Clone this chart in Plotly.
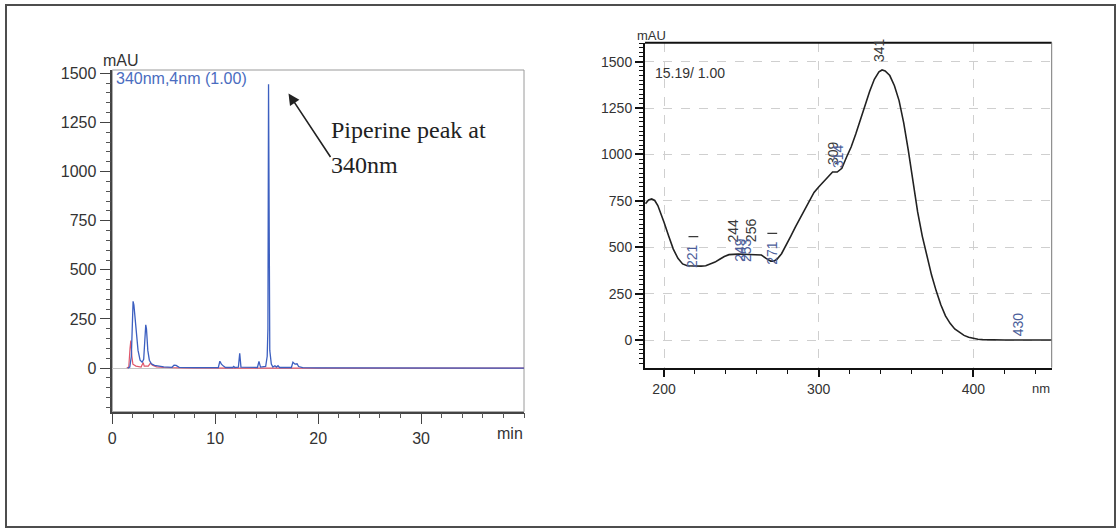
import plotly.graph_objects as go

# ---------------- data ----------------
# Chromatogram, 340nm channel (blue)
chrom_time = [1.5, 1.7, 1.85, 1.95, 2.02, 2.1, 2.2, 2.35, 2.5, 2.7, 2.9, 3.05, 3.15, 3.25, 3.32,
              3.45, 3.6, 3.8, 4.1, 4.5, 5.0, 5.8, 6.0, 6.2, 6.5, 8.0, 10.3, 10.45, 10.6, 10.8,
              11.0, 11.7, 11.8, 11.9, 12.25, 12.38, 12.5, 14.1, 14.25, 14.4, 14.9, 15.05, 15.12,
              15.18, 15.24, 15.3, 15.45, 15.6, 15.8, 15.95, 16.1, 16.25, 17.4, 17.55, 17.75,
              17.95, 18.1, 18.5, 20.0, 25.0, 40.0]
chrom_mau = [0, 5, 60, 300, 340, 320, 270, 170, 90, 40, 30, 45, 120, 220, 200,
             90, 40, 22, 14, 10, 6, 4, 15, 14, 4, 2, 2, 35, 20, 10,
             3, 3, 8, 3, 5, 75, 5, 3, 34, 5, 8, 60, 200,
             1445, 200, 90, 20, 5, 12, 5, 12, 3, 3, 30, 20,
             22, 8, 2, 1, 0, 0]
# second (red) channel
ref_time = [1.4, 1.6, 1.72, 1.8, 1.9, 2.0, 2.3, 2.8, 3.0, 3.1, 3.5, 3.7, 3.9, 4.3, 5.0, 7.0, 12.0, 40.0]
ref_mau = [0, 5, 100, 140, 60, 20, 10, 5, 28, 10, 10, 25, 15, 6, 3, 1, 0, 0]

# UV spectrum at 15.19 min
spec_nm = [188, 190, 192, 194, 196, 198, 200, 203, 206, 209, 212, 215, 218, 221, 224, 227, 230,
           233, 236, 239, 242, 245, 248, 251, 254, 257, 260, 263, 266, 269, 271, 273, 276, 279,
           282, 285, 288, 291, 294, 297, 300, 303, 306, 309, 312, 315, 318, 321, 324, 327, 330,
           333, 336, 339, 341, 343, 346, 349, 352, 355, 358, 361, 364, 367, 370, 373, 376, 379,
           382, 385, 388, 391, 394, 397, 400, 403, 406, 410, 420, 430, 440, 451]
spec_mau = [735, 755, 760, 752, 725, 685, 635, 560, 490, 440, 410, 400, 398, 398, 398, 400, 408,
            420, 435, 450, 460, 463, 463, 462, 462, 462, 462, 458, 440, 425, 425, 435, 465, 510,
            560, 610, 655, 700, 750, 795, 825, 850, 875, 905, 905, 925, 985, 1040, 1110, 1190, 1260,
            1340, 1405, 1445, 1455, 1450, 1425, 1370, 1290, 1170, 1020, 850, 690, 560, 450, 350, 265, 190,
            130, 90, 60, 40, 25, 15, 8, 4, 2, 1, 0, 0, 0, 0]

# wavelength labels on the spectrum
lab_text = ["221", "244", "256", "249", "253", "271", "309", "314", "341", "430"]
lab_nm = [218, 244, 256, 249, 253, 270, 309, 313, 339, 429]
lab_mau = [452, 590, 590, 485, 485, 472, 1005, 990, 1562, 86]
lab_kind = ["min", "max", "max", "min", "min", "min", "max", "min", "max", "min"]
# small dash marks above the minimum labels
mark_nm = [219, 270]
mark_mau = [557, 575]

left_x_ticks = [0, 10, 20, 30]
left_y_ticks = [0, 250, 500, 750, 1000, 1250, 1500]
right_x_ticks = [200, 300, 400]
right_y_ticks = [0, 250, 500, 750, 1000, 1250, 1500]

# ---------------- figure ----------------
W, H = 1118, 529
def px(x):
    return x / W
def py(y):
    return 1 - y / H

SANS = "Liberation Sans, Arial, sans-serif"
SERIF = "Liberation Serif, Times New Roman, serif"

fig = go.Figure()
fig.add_trace(go.Scatter(x=ref_time, y=ref_mau, mode="lines",
                         line=dict(color="#e0566a", width=1.2), xaxis="x", yaxis="y",
                         showlegend=False, hoverinfo="skip"))
fig.add_trace(go.Scatter(x=chrom_time, y=chrom_mau, mode="lines",
                         line=dict(color="#3c5fc0", width=1.3), xaxis="x", yaxis="y",
                         showlegend=False))
fig.add_trace(go.Scatter(x=spec_nm, y=spec_mau, mode="lines",
                         line=dict(color="#222222", width=1.6), xaxis="x2", yaxis="y2",
                         showlegend=False))
fig.add_trace(go.Scatter(x=mark_nm, y=mark_mau, mode="markers",
                         marker=dict(symbol="line-ew", size=7,
                                     line=dict(color="#3a3a3a", width=1.3)),
                         xaxis="x2", yaxis="y2", showlegend=False, hoverinfo="skip"))

annotations = []
for t, n, v, k in zip(lab_text, lab_nm, lab_mau, lab_kind):
    annotations.append(dict(x=n, y=v, xref="x2", yref="y2", text=t, showarrow=False,
                            textangle=-90,
                            font=dict(family=SANS, size=14,
                                      color="#3a3a3a" if k == "max" else "#4b5e9a")))

def ptext(x, y, text, size, color="#333333", xanchor="center", family=SANS):
    annotations.append(dict(x=px(x), y=py(y), xref="paper", yref="paper", text=text,
                            showarrow=False, xanchor=xanchor, yanchor="middle",
                            font=dict(family=family, size=size, color=color)))

ptext(121, 61, "mAU", 16)
ptext(113.5, 79, "340nm,4nm (1.00)", 16, color="#4a6cc0", xanchor="left")
ptext(510, 433, "min", 16)
ptext(329, 130, "Piperine peak at", 24, color="#222222", xanchor="left", family=SERIF)
ptext(329, 165, "340nm", 24, color="#222222", xanchor="left", family=SERIF)
ptext(651, 36, "mAU", 13)
ptext(653, 73, "15.19/ 1.00", 14, xanchor="left")
ptext(1041, 388, "nm", 13)

annotations.append(dict(x=px(288.5), y=py(93.5), xref="paper", yref="paper", text="",
                        showarrow=True, ax=43, ay=65, arrowhead=2, arrowsize=1.4,
                        arrowwidth=1.6, arrowcolor="#222222"))

shapes = [
    # outer frame
    dict(type="rect", xref="paper", yref="paper", x0=px(6), x1=px(1115), y0=py(527), y1=py(5),
         line=dict(color="#4d4d4d", width=2)),
    # left plot border
    dict(type="rect", xref="x domain", yref="y domain", x0=0, x1=1, y0=0, y1=1,
         line=dict(color="#9a9a9a", width=1), layer="below"),
    # right plot top border
    dict(type="line", xref="x2 domain", yref="y2 domain", x0=0, x1=1, y0=1, y1=1,
         line=dict(color="#111111", width=2)),
    dict(type="line", xref="x2 domain", yref="y2 domain", x0=1, x1=1, y0=0, y1=1,
         line=dict(color="#777777", width=1)),
]

tickfont_l = dict(family=SANS, size=16, color="#333333")
tickfont_r = dict(family=SANS, size=14, color="#333333")

fig.update_layout(
    width=W, height=H, autosize=False,
    margin=dict(l=0, r=0, t=0, b=0, pad=0),
    paper_bgcolor="white", plot_bgcolor="white",
    showlegend=False,
    xaxis=dict(domain=[px(112.3), px(524)], range=[0, 40], anchor="y", automargin=False,
               tickmode="array", tickvals=left_x_ticks, ticks="outside", ticklen=11,
               tickwidth=1.3, tickcolor="#444444",
               minor=dict(tickmode="linear", tick0=0, dtick=2, ticks="outside", ticklen=5,
                          tickwidth=1, tickcolor="#555555", showgrid=False),
               showline=True, linecolor="#444444", linewidth=1.5, showgrid=False,
               zeroline=False, tickfont=tickfont_l),
    yaxis=dict(domain=[py(411.7), py(70)], range=[-222, 1517], anchor="x", automargin=False,
               tickmode="array", tickvals=left_y_ticks, ticks="outside", ticklen=11,
               tickwidth=1.3, tickcolor="#444444",
               minor=dict(tickmode="linear", tick0=0, dtick=50, ticks="outside", ticklen=5,
                          tickwidth=1, tickcolor="#555555", showgrid=False),
               showline=True, linecolor="#444444", linewidth=1.5, showgrid=False,
               zeroline=True, zerolinecolor="#c4c4c4", zerolinewidth=1,
               tickfont=tickfont_l),
    xaxis2=dict(domain=[px(645), px(1051.7)], range=[187.7, 450.7], anchor="y2", automargin=False,
                tickmode="array", tickvals=right_x_ticks, ticks="outside", ticklen=7,
                tickwidth=1.5, tickcolor="#111111",
                minor=dict(tickmode="linear", tick0=0, dtick=20, ticks="outside", ticklen=4,
                           tickwidth=1.2, tickcolor="#111111", showgrid=False),
                showline=True, linecolor="#111111", linewidth=2,
                showgrid=True, gridcolor="#cfcfcf", griddash="dash", gridwidth=1,
                zeroline=False, tickfont=tickfont_r),
    yaxis2=dict(domain=[py(367.7), py(42.7)], range=[-149, 1602], anchor="x2", automargin=False,
                tickmode="array", tickvals=right_y_ticks, ticks="outside", ticklen=8,
                tickwidth=1.5, tickcolor="#111111",
                minor=dict(tickmode="linear", tick0=0, dtick=25, ticks="outside", ticklen=4,
                           tickwidth=1, tickcolor="#111111", showgrid=False),
                showline=True, linecolor="#111111", linewidth=2,
                showgrid=True, gridcolor="#cfcfcf", griddash="dash", gridwidth=1,
                zeroline=False, tickfont=tickfont_r),
    annotations=annotations,
    shapes=shapes,
)

fig.write_html("out.html")
